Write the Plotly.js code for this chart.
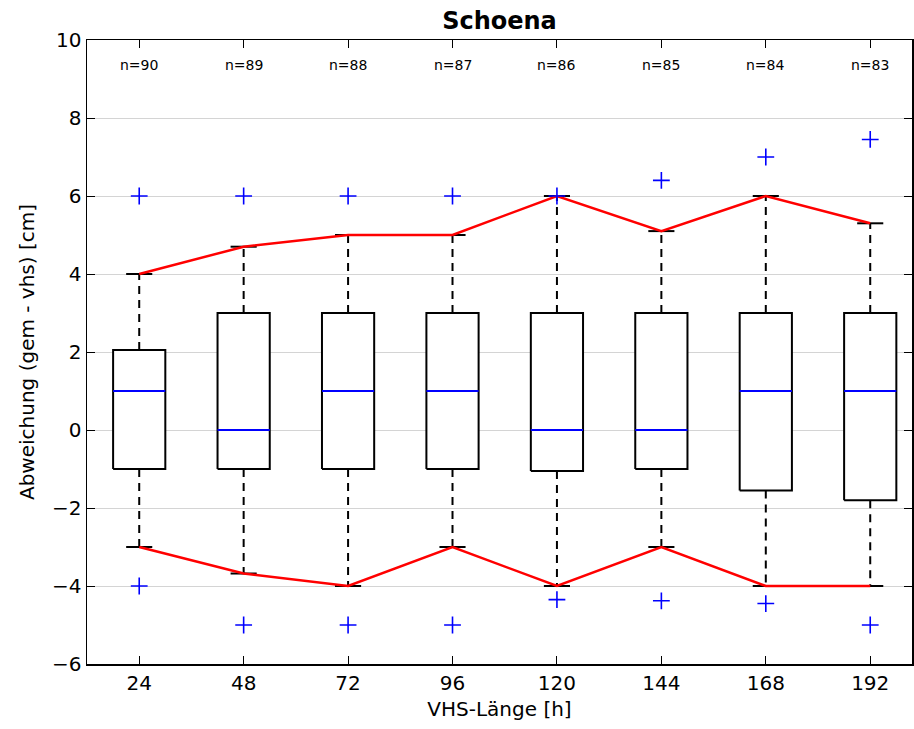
<!DOCTYPE html>
<html>
<head>
<meta charset="utf-8">
<script src="https://cdn.plot.ly/plotly-3.0.1.min.js"></script>
<style>html,body{margin:0;padding:0;background:#fff;}</style>
</head>
<body>
<div id="chart" style="width:914px;height:729px;"></div>
<script>
// ---- data ----
const hours        = [24, 48, 72, 96, 120, 144, 168, 192];
const hourLabels   = ["24", "48", "72", "96", "120", "144", "168", "192"];
const nCounts      = [90, 89, 88, 87, 86, 85, 84, 83];
const q1           = [-1, -1, -1, -1, -1.05, -1, -1.55, -1.8];
const medians      = [1, 0, 1, 1, 0, 0, 1, 1];
const q3           = [2.05, 3, 3, 3, 3, 3, 3, 3];
const whiskerHigh  = [4, 4.7, 5, 5, 6, 5.1, 6, 5.3];
const whiskerLow   = [-3, -3.68, -4, -3, -4, -3, -4, -4];
const outlierHigh  = [6, 6, 6, 6, 6, 6.4, 7, 7.45];
const outlierLow   = [-4, -5, -5, -5, -4.35, -4.38, -4.45, -5];

// ---- style constants ----
const BOX_HALF = 6;   // half box width in x units
const CAP_HALF = 3;   // half whisker-cap width in x units
const FONT = "DejaVu Sans, Bitstream Vera Sans, sans-serif";

const traces = [];

// dashed whiskers
{
  const x = [], y = [];
  hours.forEach((h, i) => {
    x.push(h, h, null, h, h, null);
    y.push(q3[i], whiskerHigh[i], null, q1[i], whiskerLow[i], null);
  });
  traces.push({type: "scatter", mode: "lines", x, y,
    line: {color: "black", width: 2, dash: "8px,6px"}, hoverinfo: "skip"});
}

// boxes
hours.forEach((h, i) => {
  traces.push({type: "scatter", mode: "lines",
    x: [h - BOX_HALF, h + BOX_HALF, h + BOX_HALF, h - BOX_HALF, h - BOX_HALF],
    y: [q1[i], q1[i], q3[i], q3[i], q1[i]],
    fill: "toself", fillcolor: "white",
    line: {color: "black", width: 2}, hoverinfo: "skip"});
});

// caps
{
  const x = [], y = [];
  hours.forEach((h, i) => {
    x.push(h - CAP_HALF, h + CAP_HALF, null, h - CAP_HALF, h + CAP_HALF, null);
    y.push(whiskerHigh[i], whiskerHigh[i], null, whiskerLow[i], whiskerLow[i], null);
  });
  traces.push({type: "scatter", mode: "lines", x, y,
    line: {color: "black", width: 2}, hoverinfo: "skip"});
}

// medians
{
  const x = [], y = [];
  hours.forEach((h, i) => {
    x.push(h - BOX_HALF, h + BOX_HALF, null);
    y.push(medians[i], medians[i], null);
  });
  traces.push({type: "scatter", mode: "lines", x, y,
    line: {color: "blue", width: 2}, hoverinfo: "skip"});
}

// red lines joining whisker ends
traces.push({type: "scatter", mode: "lines", x: hours, y: whiskerHigh,
  line: {color: "red", width: 2.5}, hoverinfo: "skip"});
traces.push({type: "scatter", mode: "lines", x: hours, y: whiskerLow,
  line: {color: "red", width: 2.5}, hoverinfo: "skip"});

// outliers
traces.push({type: "scatter", mode: "markers",
  x: hours.concat(hours), y: outlierHigh.concat(outlierLow),
  marker: {symbol: "cross-thin-open", size: 12, color: "blue", line: {color: "blue", width: 1.6}},
  hoverinfo: "skip"});

// n= annotations
const annotations = hours.map((h, i) => ({
  x: h, y: 9.35, xref: "x", yref: "y", text: "n=" + nCounts[i],
  showarrow: false, font: {family: FONT, size: 14, color: "black"}
}));

const layout = {
  width: 914, height: 729,
  margin: {l: 87, r: 2, t: 40, b: 65},
  paper_bgcolor: "white", plot_bgcolor: "white",
  showlegend: false, hovermode: false,
  font: {family: FONT, color: "black"},
  title: {text: "<b>Schoena</b>", font: {family: FONT, size: 24, color: "black"},
    x: 0.5, xref: "paper", y: 0.972, yref: "container", yanchor: "middle"},
  xaxis: {
    range: [12, 201.6], tickvals: hours, ticktext: hourLabels,
    ticks: "inside", ticklen: 8, tickwidth: 1, tickcolor: "black",
    showline: true, linecolor: "black", linewidth: 1.5, mirror: "ticks",
    showgrid: false, zeroline: false,
    tickfont: {family: FONT, size: 20, color: "black"},
    title: {text: "VHS-Länge [h]", font: {family: FONT, size: 20, color: "black"}, standoff: 8}
  },
  yaxis: {
    range: [-6, 10], dtick: 2, tick0: 0,
    ticks: "inside", ticklen: 8, tickwidth: 1, tickcolor: "black",
    showline: true, linecolor: "black", linewidth: 1.5, mirror: "ticks",
    showgrid: true, gridcolor: "#d4d4d4", gridwidth: 1, zeroline: false,
    tickfont: {family: FONT, size: 20, color: "black"},
    title: {text: "Abweichung (gem - vhs) [cm]", font: {family: FONT, size: 20, color: "black"}, standoff: 12}
  },
  annotations
};

Plotly.newPlot("chart", traces, layout, {staticPlot: true, displayModeBar: false});
</script>
</body>
</html>
